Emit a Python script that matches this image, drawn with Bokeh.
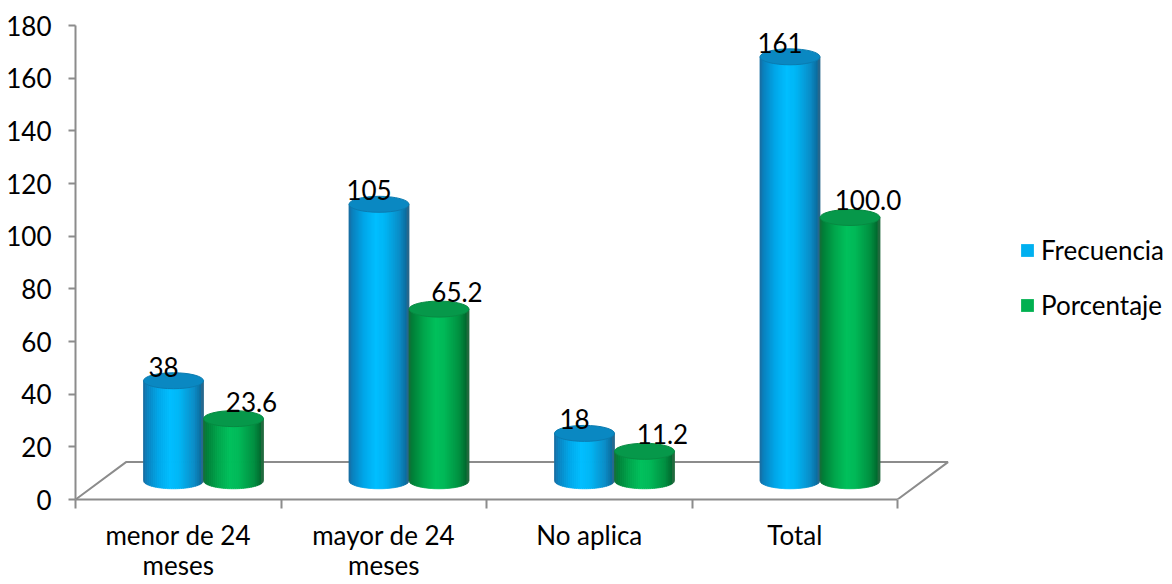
import numpy as np
from bokeh.plotting import figure
from bokeh.models import Range1d, FixedTicker, Legend, LegendItem, ColumnDataSource
from bokeh.embed import file_html
from bokeh.resources import INLINE
from bokeh.core.properties import value

# ---------------- data ----------------
categories = ["menor de 24\nmeses", "mayor de 24\nmeses", "No aplica", "Total"]
frecuencia = [38, 105, 18, 161]
porcentaje = [23.6, 65.2, 11.2, 100.0]
series_names = ["Frecuencia", "Porcentaje"]
y_ticks = [0, 20, 40, 60, 80, 100, 120, 140, 160, 180]

# ---------------- layout / style ----------------
W, H = 1172, 584
LEFT, TOP, BOTTOM = 75, 25, 84
PX_PER_CAT = 205.5
Y_MAX = y_ticks[-1]
frame_w = W - LEFT
frame_h = H - TOP - BOTTOM
px_per_y = frame_h / Y_MAX
DX = 50.5 / PX_PER_CAT          # floor depth (x)
DY = 37.5 / px_per_y            # floor depth (y)
CYL_W = 60 / PX_PER_CAT
ELL_H = 16 / px_per_y
FONT_NAME = "Lato"
FONT = value(FONT_NAME)
FS = "26px"
AXIS_COLOR = "#8c8c8c"

blue_stops = [(0.0, "#1a6a9c"), (0.06, "#0a80bd"), (0.25, "#00a6e8"),
              (0.45, "#00beff"), (0.6, "#00b6f5"), (0.85, "#0a8cc6"),
              (0.96, "#0a6c9e"), (1.0, "#3a6682")]
green_stops = [(0.0, "#1a6a3a"), (0.06, "#007f38"), (0.25, "#00a64c"),
               (0.45, "#00c05c"), (0.6, "#00b857"), (0.85, "#008e40"),
               (0.96, "#006a2e"), (1.0, "#3a6a4a")]
top_fill = ["#0a88c2", "#06984a"]
top_line = ["#0b7bb0", "#078a42"]
legend_colors = ["#00b0f0", "#00b050"]
label_dx = [-10, 18]
label_dy = [-14, -17]


def hex2rgb(h):
    h = h.lstrip("#")
    return np.array([int(h[i:i + 2], 16) for i in (0, 2, 4)], dtype=float)


def interp(stops, u):
    for (u0, c0), (u1, c1) in zip(stops[:-1], stops[1:]):
        if u0 <= u <= u1:
            t = (u - u0) / (u1 - u0) if u1 > u0 else 0
            c = hex2rgb(c0) * (1 - t) + hex2rgb(c1) * t
            return "#%02x%02x%02x" % tuple(int(round(v)) for v in c)
    return stops[-1][1]


p = figure(width=W, height=H,
           x_range=Range1d(0, frame_w / PX_PER_CAT),
           y_range=Range1d(0, Y_MAX),
           output_backend="svg", toolbar_location=None,
           min_border_left=LEFT, min_border_right=0,
           min_border_top=TOP, min_border_bottom=BOTTOM)
p.outline_line_color = None
p.xgrid.visible = False
p.ygrid.visible = False
p.background_fill_color = "white"
p.border_fill_color = "white"

n = len(categories)

# ---------------- floor ----------------
p.line(x=[0, DX, n + DX, n], y=[0, DY, DY, 0],
       line_color=AXIS_COLOR, line_width=2)

# ---------------- cylinders ----------------
NSTRIP = 30
xs_all, ys_all, cols = [], [], []
tops = {"x": [], "y": [], "fill": [], "line": []}
labels = []
for s, (vals, stops) in enumerate([(frecuencia, blue_stops), (porcentaje, green_stops)]):
    for i, v in enumerate(vals):
        xc = i + 0.5 + DX / 2 + (s - 0.5) * CYL_W
        yb = DY / 2
        yt = v + DY / 2
        edges = np.linspace(xc - CYL_W / 2, xc + CYL_W / 2, NSTRIP + 1)
        for k in range(NSTRIP):
            x0, x1 = edges[k], edges[k + 1]
            xx = np.linspace(x0, x1, 4)
            uu = (xx - xc) / (CYL_W / 2)
            yy = yb - ELL_H / 2 * np.sqrt(np.clip(1 - uu ** 2, 0, 1))
            xs_all.append(list(xx) + [x1, x0])
            ys_all.append(list(yy) + [yt, yt])
            cols.append(interp(stops, (k + 0.5) / NSTRIP))
        tops["x"].append(xc)
        tops["y"].append(yt)
        tops["fill"].append(top_fill[s])
        tops["line"].append(top_line[s])
        txt = str(v) if s == 0 else "%.1f" % v
        labels.append((s, xc, yt, txt))

p.patches(xs=xs_all, ys=ys_all, fill_color=cols, line_color=cols, line_width=0.8)
p.ellipse(x="x", y="y", width=CYL_W, height=ELL_H, fill_color="fill",
          line_color="line", line_width=1, source=ColumnDataSource(tops))

for s in range(2):
    sel = [l for l in labels if l[0] == s]
    p.text(x=[l[1] for l in sel], y=[l[2] for l in sel], text=[l[3] for l in sel],
           x_offset=label_dx[s], y_offset=label_dy[s],
           text_align="center", text_baseline="alphabetic",
           text_font=FONT, text_font_size=FS, text_color="black")

# ---------------- axes ----------------
xa = p.xaxis[0]
xa.ticker = FixedTicker(ticks=[i + 0.5 for i in range(n)], minor_ticks=list(range(n + 1)))
xa.major_label_overrides = {i + 0.5: c for i, c in enumerate(categories)}
xa.bounds = (0, n)
xa.axis_line_color = AXIS_COLOR
xa.axis_line_width = 2
xa.major_tick_out = 0
xa.major_tick_in = 0
xa.minor_tick_out = 9
xa.minor_tick_in = 0
xa.minor_tick_line_color = AXIS_COLOR
xa.minor_tick_line_width = 2
xa.major_label_standoff = 10
xa.major_label_text_font = FONT_NAME
xa.major_label_text_font_size = FS
xa.major_label_text_line_height = 0.96
xa.major_label_text_color = "black"

ya = p.yaxis[0]
ya.ticker = FixedTicker(ticks=y_ticks, minor_ticks=[])
ya.bounds = (0, Y_MAX)
ya.axis_line_color = AXIS_COLOR
ya.axis_line_width = 2
ya.major_tick_out = 7
ya.major_tick_in = 0
ya.major_tick_line_color = AXIS_COLOR
ya.major_tick_line_width = 2
ya.minor_tick_line_color = None
ya.major_label_standoff = 17
ya.major_label_text_font = FONT_NAME
ya.major_label_text_font_size = FS
ya.major_label_text_color = "black"

# ---------------- legend ----------------
items = []
for s, name in enumerate(series_names):
    r = p.quad(left=[0], right=[0], top=[0], bottom=[0],
               fill_color=legend_colors[s], line_color=None, visible=False)
    items.append(LegendItem(label=name, renderers=[r]))
leg = Legend(items=items, location=(944, 178), orientation="vertical",
             glyph_width=16, glyph_height=16, label_standoff=6,
             label_text_font=FONT_NAME, label_text_font_size=FS,
             label_text_color="black",
             label_height=27, spacing=23, padding=0, margin=0,
             border_line_color=None, background_fill_alpha=0)
p.add_layout(leg)

open("out.html", "w").write(file_html(p, INLINE))
